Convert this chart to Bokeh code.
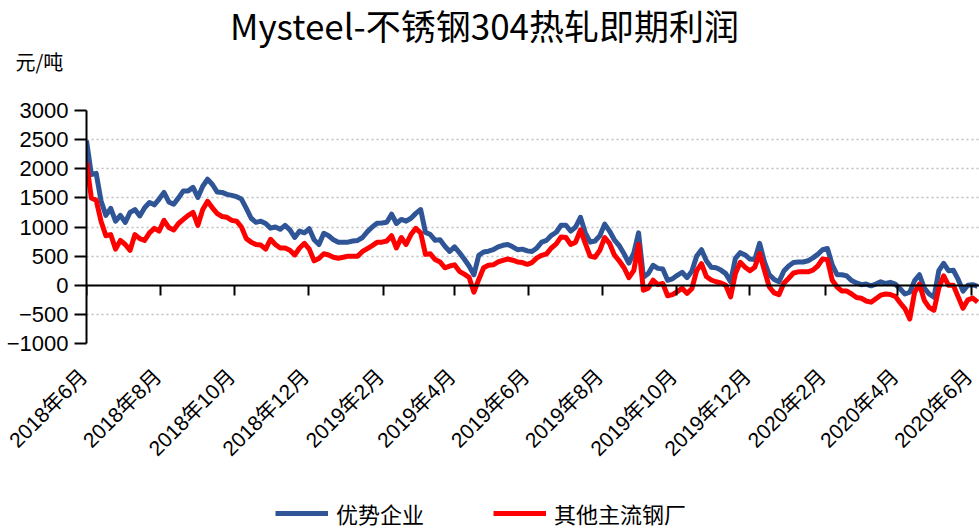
import math
import pandas as pd
from bokeh.plotting import figure
from bokeh.models import (Range1d, FixedTicker, DatetimeAxis, Legend, LegendItem, Label)
from bokeh.core.properties import value
from bokeh.embed import file_html
from bokeh.resources import INLINE

title_text = "Mysteel-不锈钢304热轧即期利润"
unit_text = "元/吨"
series_names = ["优势企业", "其他主流钢厂"]
start_date = "2018-06-01"
step_days = 4

blue_vals = [
    2485, 1900, 1920, 1450, 1200, 1320, 1100, 1200, 1080, 1250,
    1300, 1190, 1330, 1420, 1380, 1480, 1594, 1430, 1390, 1500,
    1620, 1620, 1680, 1508, 1700, 1820, 1730, 1600, 1594, 1560,
    1543, 1520, 1480, 1320, 1150, 1080, 1100, 1060, 980, 1000,
    960, 1028, 950, 820, 930, 900, 970, 780, 700, 891,
    850, 780, 737, 737, 740, 760, 770, 820, 920, 1000,
    1063, 1070, 1080, 1220, 1060, 1130, 1100, 1150, 1234, 1300,
    908, 870, 771, 780, 670, 580, 660, 560, 450, 330,
    180, 514, 570, 585, 610, 660, 686, 700, 660, 610,
    620, 590, 580, 640, 740, 770, 857, 910, 1030, 1030,
    930, 1000, 1166, 900, 740, 760, 850, 1050, 930, 780,
    680, 540, 380, 550, 900, 137, 200, 343, 290, 280,
    86, 110, 170, 223, 130, 240, 500, 610, 420, 308,
    300, 260, 200, 60, 463, 560, 520, 450, 440, 720,
    400, 180, 100, 60, 245, 330, 390, 400, 400, 420,
    470, 530, 610, 630, 350, 180, 180, 160, 80, 40,
    10, 20, -10, 20, 60, 30, 50, 20, -60, -150,
    -120, 80, 180, -50, -150, -206, 250, 377, 250, 257,
    100, -100, 0, 10, -20,
]

red_vals = [
    2108, 1500, 1460, 1100, 850, 870, 620, 771, 700, 600,
    870, 800, 771, 900, 977, 930, 1114, 990, 950, 1060,
    1130, 1200, 1250, 1028, 1300, 1440, 1330, 1230, 1180, 1166,
    1114, 1100, 1000, 800, 740, 700, 690, 620, 790, 700,
    640, 640, 600, 520, 640, 720, 620, 420, 460, 540,
    520, 480, 463, 480, 500, 500, 500, 580, 630, 680,
    737, 740, 760, 850, 640, 820, 700, 870, 977, 900,
    530, 540, 440, 400, 300, 330, 350, 240, 190, 137,
    -120, 100, 300, 343, 350, 400, 428, 450, 430, 400,
    390, 360, 390, 470, 514, 540, 640, 710, 830, 820,
    700, 740, 950, 720, 500, 480, 600, 820, 720, 520,
    420, 300, 130, 250, 700, -86, -50, 86, 10, 30,
    -180, -160, -110, -51, -140, -60, 250, 370, 150, 90,
    60, 40, 0, -200, 200, 394, 310, 250, 310, 548,
    250, -30, -130, -160, 34, 120, 210, 230, 230, 230,
    260, 330, 450, 440, 86, -30, -100, -100, -150, -210,
    -223, -270, -291, -230, -170, -150, -160, -190, -300, -400,
    -580, -120, 20, -260, -380, -429, -50, 160, 0, 0,
    -200, -394, -250, -220, -290,
]

x_tick_dates = ["2018-06-01", "2018-08-01", "2018-10-01", "2018-12-01",
                "2019-02-01", "2019-04-01", "2019-06-01", "2019-08-01",
                "2019-10-01", "2019-12-01", "2020-02-01", "2020-04-01",
                "2020-06-01"]
x_tick_labels = ["2018年6月", "2018年8月", "2018年10月", "2018年12月",
                 "2019年2月", "2019年4月", "2019年6月", "2019年8月",
                 "2019年10月", "2019年12月", "2020年2月", "2020年4月",
                 "2020年6月"]
y_ticks = [-1000, -500, 0, 500, 1000, 1500, 2000, 2500, 3000]


def ms(d):
    return pd.Timestamp(d).value / 1e6


dates = pd.date_range(start_date, periods=len(blue_vals), freq=f"{step_days}D")
tick_ms = [ms(d) for d in x_tick_dates]

BLUE = "#2F5597"
RED = "#FF0000"
LAT = "Liberation Sans, Noto Sans CJK SC"
CJK = "Noto Sans CJK SC"

W = 979
LEFT = 86
HEADER_H = 94
MAIN_TOP = 16
FRAME_H = 233
MAIN_BOTTOM = 12
FOOTER_H = 528 - HEADER_H - (MAIN_TOP + FRAME_H + MAIN_BOTTOM)

x_start = ms("2018-06-01")
x_end = ms("2020-06-01") + 8 * (ms("2020-06-01") - x_start) / 885
ms_per_px = (x_end - x_start) / (W - LEFT)


def bare(fig):
    fig.outline_line_color = None
    fig.background_fill_color = "white"
    fig.border_fill_color = "white"
    fig.xgrid.visible = False
    fig.ygrid.visible = False
    return fig


# ---- header: title and unit ----
header = bare(figure(width=W, height=HEADER_H, x_range=Range1d(0, W),
                     y_range=Range1d(0, HEADER_H),
                     x_axis_location=None, y_axis_location=None,
                     output_backend="svg", toolbar_location=None,
                     min_border=0))
header.add_layout(Label(x=484, y=HEADER_H - 24, text=title_text,
                        text_font=CJK, text_font_size="35px",
                        text_color="black", text_align="center",
                        text_baseline="middle"))
header.add_layout(Label(x=15, y=HEADER_H - 61, text=unit_text,
                        text_font=CJK, text_font_size="20px",
                        text_color="black", text_align="left",
                        text_baseline="middle"))

# ---- main plot ----
p = figure(width=W, height=MAIN_TOP + FRAME_H + MAIN_BOTTOM,
           x_axis_type="datetime", x_axis_location=None,
           x_range=Range1d(x_start, x_end),
           y_range=Range1d(y_ticks[0], y_ticks[-1]),
           output_backend="svg", toolbar_location=None,
           min_border_left=LEFT, min_border_right=0,
           min_border_top=MAIN_TOP, min_border_bottom=MAIN_BOTTOM)
p.outline_line_color = None
p.background_fill_color = "white"
p.border_fill_color = "white"
p.xgrid.visible = False

yax = p.yaxis[0]
yax.ticker = FixedTicker(ticks=y_ticks)
yax.axis_line_color = "black"
yax.axis_line_width = 2
yax.major_tick_line_color = "black"
yax.major_tick_line_width = 2
yax.major_tick_out = 12
yax.major_tick_in = 0
yax.minor_tick_line_color = None
yax.major_label_text_font = LAT
yax.major_label_text_font_size = "22px"
yax.major_label_text_color = "black"
yax.major_label_standoff = 6

zax = DatetimeAxis(fixed_location=0, ticker=FixedTicker(ticks=tick_ms),
                   axis_line_color="black", axis_line_width=2,
                   major_tick_line_color="black", major_tick_line_width=2,
                   major_tick_out=0, major_tick_in=10,
                   minor_tick_line_color=None, major_label_standoff=0,
                   major_label_text_font_size="0px",
                   major_label_text_alpha=0)
p.add_layout(zax, "above")

p.ygrid.ticker = FixedTicker(ticks=y_ticks)
p.ygrid.grid_line_color = "#BFBFBF"
p.ygrid.grid_line_dash = "2 3"
p.ygrid.grid_line_width = 1.5

p.line(dates, blue_vals, line_color=BLUE, line_width=5, line_join="round")
p.line(dates, red_vals, line_color=RED, line_width=5, line_join="round")

# ---- footer: date labels and legend ----
footer = bare(figure(width=W, height=FOOTER_H, x_axis_type="datetime",
                     x_range=Range1d(x_start - LEFT * ms_per_px, x_end),
                     y_range=Range1d(0, FOOTER_H),
                     x_axis_location=None, y_axis_location=None,
                     output_backend="svg", toolbar_location=None,
                     min_border=0))
footer.text(x=tick_ms, y=[FOOTER_H - 9] * len(tick_ms), text=x_tick_labels,
            angle=math.pi / 4, text_align="right", text_baseline="top",
            x_offset=-11, text_font=value(LAT), text_font_size=value("21px"),
            text_color="black")

# legend proxies: one undefined point each, so nothing is drawn in the footer
lb = footer.line(x=[x_start], y=[math.nan], line_color=BLUE, line_width=5)
lr = footer.line(x=[x_start], y=[math.nan], line_color=RED, line_width=5)
legend = Legend(items=[LegendItem(label=series_names[0], renderers=[lb]),
                       LegendItem(label=series_names[1], renderers=[lr])],
                orientation="horizontal", location=(275, -1),
                glyph_width=53, glyph_height=16, label_height=16,
                label_standoff=8, spacing=69, padding=0, margin=0,
                label_text_font=CJK, label_text_font_size="22px",
                label_text_color="black",
                border_line_color=None, background_fill_alpha=0)
footer.add_layout(legend)

open("out.html", "w").write(file_html([header, p, footer], INLINE))
